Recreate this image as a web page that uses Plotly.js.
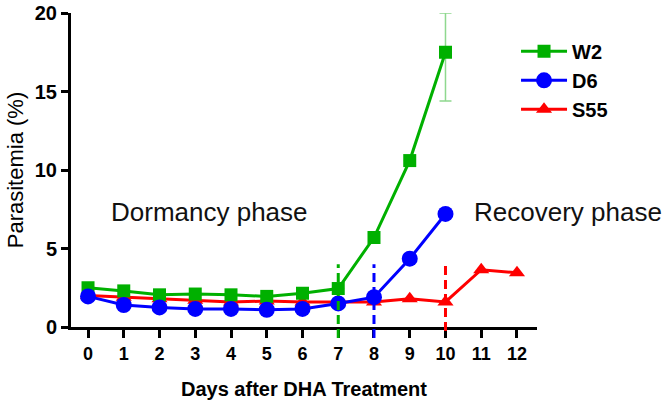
<!DOCTYPE html>
<html><head><meta charset="utf-8">
<script src="https://cdn.plot.ly/plotly-3.0.1.min.js"></script>
<style>html,body{margin:0;padding:0;background:#fff}#chart{width:666px;height:406px}</style>
</head><body><div id="chart"></div>
<script>
var days = [0,1,2,3,4,5,6,7,8,9,10,11,12];
var daysW2 = [0,1,2,3,4,5,6,7,8,9,10];
var w2 = [2.5,2.3,2.05,2.1,2.05,1.95,2.15,2.45,5.7,10.6,17.5];
var w2ErrPlus = [0,0,0,0,0,0,0,0,0,0,2.5];
var w2ErrMinus = [0,0,0,0,0,0,0,0,0,0,3.1];
var daysD6 = [0,1,2,3,4,5,6,7,8,9,10];
var d6 = [1.95,1.4,1.25,1.15,1.15,1.1,1.15,1.5,1.9,4.35,7.2];
var s55 = [2.0,1.9,1.8,1.7,1.6,1.65,1.6,1.6,1.6,1.8,1.6,3.65,3.45];
var tickVals = [0,1,2,3,4,5,6,7,8,9,10,11,12];
var yTicks = [0,5,10,15,20];
var dashX = [7,8,10];
var dashColors = ['#00b000','#0000ff','#ff0000'];
var dashTop = [4.0,4.0,4.1];
var dashBottom = [-0.7,-0.7,-0.25];
var yMax = 20;

var font = 'Arial, "Liberation Sans", sans-serif';
var traces = [
  {x: days, y: s55, name: 'S55', mode: 'lines+markers', legendrank: 3,
   line: {color: '#ff0000', width: 3},
   marker: {symbol: 'triangle-up', size: 14, color: '#ff0000'}},
  {x: daysW2, y: w2, name: 'W2', mode: 'lines+markers', legendrank: 1,
   line: {color: '#00b000', width: 3},
   marker: {symbol: 'square', size: 13, color: '#00b000'},
   error_y: {type: 'data', symmetric: false, array: w2ErrPlus, arrayminus: w2ErrMinus,
             color: '#8fd88f', thickness: 1.5, width: 6}},
  {x: daysD6, y: d6, name: 'D6', mode: 'lines+markers', legendrank: 2,
   line: {color: '#0000ff', width: 3},
   marker: {symbol: 'circle', size: 16, color: '#0000ff'}}
];
var shapes = dashX.map(function(x, i){
  return {type: 'line', xref: 'x', yref: 'paper', x0: x, x1: x,
          y0: dashBottom[i] / yMax, y1: dashTop[i] / yMax,
          line: {color: dashColors[i], width: 3, dash: '9px,5px'}};
});
function px2paperX(p){ return (p - 71) / 466; }
function px2paperY(p){ return (327 - p) / 314; }
var layout = {
  width: 666, height: 406,
  margin: {l: 71, r: 129, t: 13, b: 79},
  paper_bgcolor: '#fff', plot_bgcolor: '#fff',
  showlegend: true,
  legend: {x: 0.955, y: 0.94, xanchor: 'left', yanchor: 'top', traceorder: 'normal',
           font: {family: font, size: 20, color: '#000', weight: 'bold'},
           bgcolor: 'rgba(0,0,0,0)', itemwidth: 46, tracegroupgap: 0},
  xaxis: {range: [-0.476, 12.56], tickvals: tickVals, ticktext: tickVals.map(String),
          showgrid: false, zeroline: false, showline: true, linecolor: '#000', linewidth: 3,
          ticks: 'outside', ticklen: 8, tickwidth: 3, tickcolor: '#000',
          tickfont: {family: font, size: 18, color: '#000', weight: 'bold'},
          title: {text: 'Days after DHA Treatment', standoff: 20,
                  font: {family: font, size: 20, color: '#000', weight: 'bold'}}},
  yaxis: {range: [0, yMax], tickvals: yTicks, showgrid: false, zeroline: false,
          showline: true, linecolor: '#000', linewidth: 3,
          ticks: 'outside', ticklen: 7, tickwidth: 3, tickcolor: '#000',
          tickfont: {family: font, size: 20, color: '#000', weight: 'bold'},
          title: {text: 'Parasitemia (%)', standoff: 6,
                  font: {family: font, size: 22, color: '#000'}}},
  shapes: shapes,
  annotations: [
    {text: 'Dormancy phase', px: 209, py: 212},
    {text: 'Recovery phase', px: 568, py: 212}
  ].map(function(a){
    return {text: a.text, xref: 'paper', yref: 'paper', x: px2paperX(a.px), y: px2paperY(a.py),
            showarrow: false, xanchor: 'center', yanchor: 'middle',
            font: {family: font, size: 26, color: '#111'}};
  })
};
Plotly.newPlot('chart', traces, layout, {displayModeBar: false, staticPlot: true});
</script></body></html>
